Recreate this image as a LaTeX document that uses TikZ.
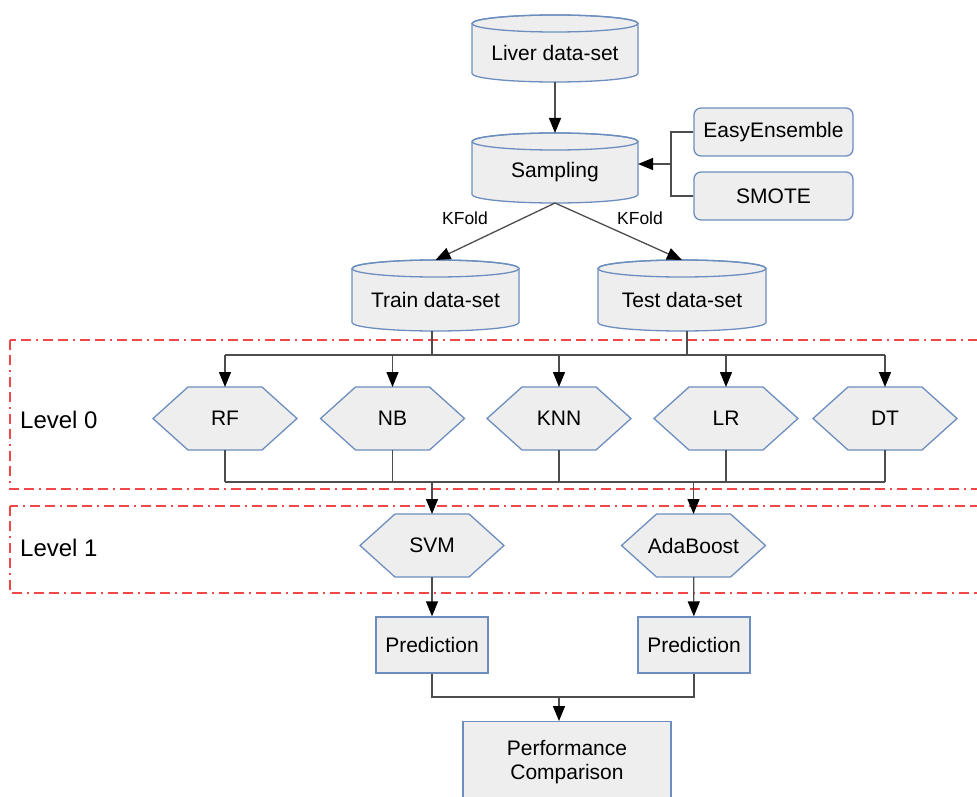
\documentclass[tikz,border=0pt]{standalone}
\usepackage{fontspec}
\setmainfont{Liberation Sans}
\usetikzlibrary{arrows.meta,calc}
\definecolor{boxfill}{HTML}{EEEEEE}
\definecolor{boxline}{HTML}{6C8EBF}
\definecolor{connc}{HTML}{4D4D4D}
\definecolor{redline}{HTML}{F04848}
\tikzset{
  shapeline/.style={draw=boxline, fill=boxfill, line width=1.3pt},
  mainfont/.style={font=\fontsize{21}{24}\selectfont},
  anchorbox/.style={mainfont, inner sep=0pt, outer sep=0pt, align=center},
  rbox/.style={shapeline, mainfont, rounded corners=7pt, minimum width=159pt, minimum height=48pt, inner sep=0pt},
  pbox/.style={shapeline, mainfont, minimum width=112pt, minimum height=56pt, inner sep=0pt, align=center},
  conn/.style={draw=connc, line width=1.3pt},
  arr/.style={conn, -{Triangle[length=15pt,width=12pt,color=black]}},
  levelbox/.style={draw=redline, line width=1.4pt, dash pattern=on 10pt off 5pt on 10pt off 5pt on 2pt off 5pt},
  leveltext/.style={font=\fontsize{24}{28}\selectfont, anchor=west, inner sep=0pt},
  kfold/.style={font=\fontsize{17.5}{20}\selectfont, inner sep=0pt},
}
% hexagon: name, cx, cy, text
\newcommand{\hexnode}[4]{%
  \path[shapeline] (#2-72,#3) -- ++(35,-31.5) -- ++(74,0) -- ++(35,31.5) -- ++(-35,31.5) -- ++(-74,0) -- cycle;
  \node[anchorbox, minimum width=144pt, minimum height=63pt] (#1) at (#2,#3) {#4};
}
% cylinder: name, cx, cy, rx, h, text
\newcommand{\cylnode}[6]{%
  \path[shapeline] (#2-#4,#3-#5/2+8.5) -- (#2-#4,#3+#5/2-8.5)
     arc[start angle=180,end angle=360,x radius=#4pt,y radius=8.5pt]
     -- (#2+#4,#3-#5/2+8.5)
     arc[start angle=0,end angle=180,x radius=#4pt,y radius=8.5pt] -- cycle;
  \draw[boxline, line width=1.3pt] (#2,#3-#5/2+8.5) ellipse[x radius=#4pt,y radius=8.5pt];
  \node[anchorbox, minimum width={2*#4pt}, minimum height=#5pt] (#1) at (#2,#3)
     {\raisebox{-4.5pt}[\height][\depth]{#6}};
}
\begin{document}
\begin{tikzpicture}[x=1pt,y=-1pt]
\useasboundingbox (0,0) rectangle (977,797);
\clip (0,0) rectangle (977,797);

% level frames
\draw[levelbox] (10,340) rectangle (1000,489);
\draw[levelbox] (10,506) rectangle (1000,593);
\node[leveltext] (lvl0) at (20,420) {Level 0};
\node[leveltext] (lvl1) at (20,548) {Level 1};

% data stores
\cylnode{liver}{555}{48.5}{83}{67}{Liver data-set}
\cylnode{sampling}{555}{168}{83}{70}{Sampling}
\cylnode{train}{435.5}{295.5}{83.5}{71}{Train data-set}
\cylnode{test}{682}{295.5}{84}{71}{Test data-set}

\node[rbox] (easy) at (773.5,132) {EasyEnsemble};
\node[rbox] (smote) at (773.5,196) {SMOTE};

% level 0 classifiers
\hexnode{rf}{225}{418.5}{RF}
\hexnode{nb}{392.5}{418.5}{NB}
\hexnode{knn}{559}{418.5}{KNN}
\hexnode{lr}{726}{418.5}{LR}
\hexnode{dt}{885}{418.5}{DT}

% level 1
\hexnode{svm}{432}{545.5}{SVM}
\hexnode{ada}{693.5}{545.5}{AdaBoost}

\node[pbox] (pred1) at (432,645) {Prediction};
\node[pbox] (pred2) at (694,645) {Prediction};
\node[pbox, anchor=north, minimum width=208pt, minimum height=80pt] (perf) at (567,721) {Performance\\Comparison};

% helper coordinates
\coordinate (mergeE) at (671,164);
\coordinate (busA) at (0,355);
\coordinate (busB) at (0,482);
\coordinate (joinP) at (559,697);

% connectors
\draw[arr] (liver) -- (sampling);
\draw[conn] (easy.west) -| (mergeE);
\draw[conn] (smote.west) -| (mergeE);
\draw[arr] (mergeE) -- (mergeE -| sampling.east);

\draw[arr] (sampling.south) -- (train.north);
\draw[arr] (sampling.south) -- (test.north);
\node[kfold] (kf1) at (465,218) {KFold};
\node[kfold] (kf2) at (640,218) {KFold};

\draw[conn] ([xshift=-3.5pt]train.south) -- ([xshift=-3.5pt]train.south |- busA);
\draw[conn] ([xshift=5pt]test.south) -- ([xshift=5pt]test.south |- busA);
\draw[conn] (rf.north |- busA) -- (dt.north |- busA);
\foreach \n in {rf,nb,knn,lr,dt} {
  \draw[arr] (\n.north |- busA) -- (\n.north);
  \draw[conn] (\n.south) -- (\n.south |- busB);
}
\draw[conn] (rf.south |- busB) -- (dt.south |- busB);
\draw[arr] (svm.north |- busB) -- (svm.north);
\draw[arr] (ada.north |- busB) -- (ada.north);

\draw[arr] (svm) -- (pred1);
\draw[arr] (ada) -- (pred2);
\draw[conn] (pred1.south) |- (joinP);
\draw[conn] (pred2.south) |- (joinP);
\draw[arr] (joinP) -- (joinP |- perf.north);
\end{tikzpicture}
\end{document}
